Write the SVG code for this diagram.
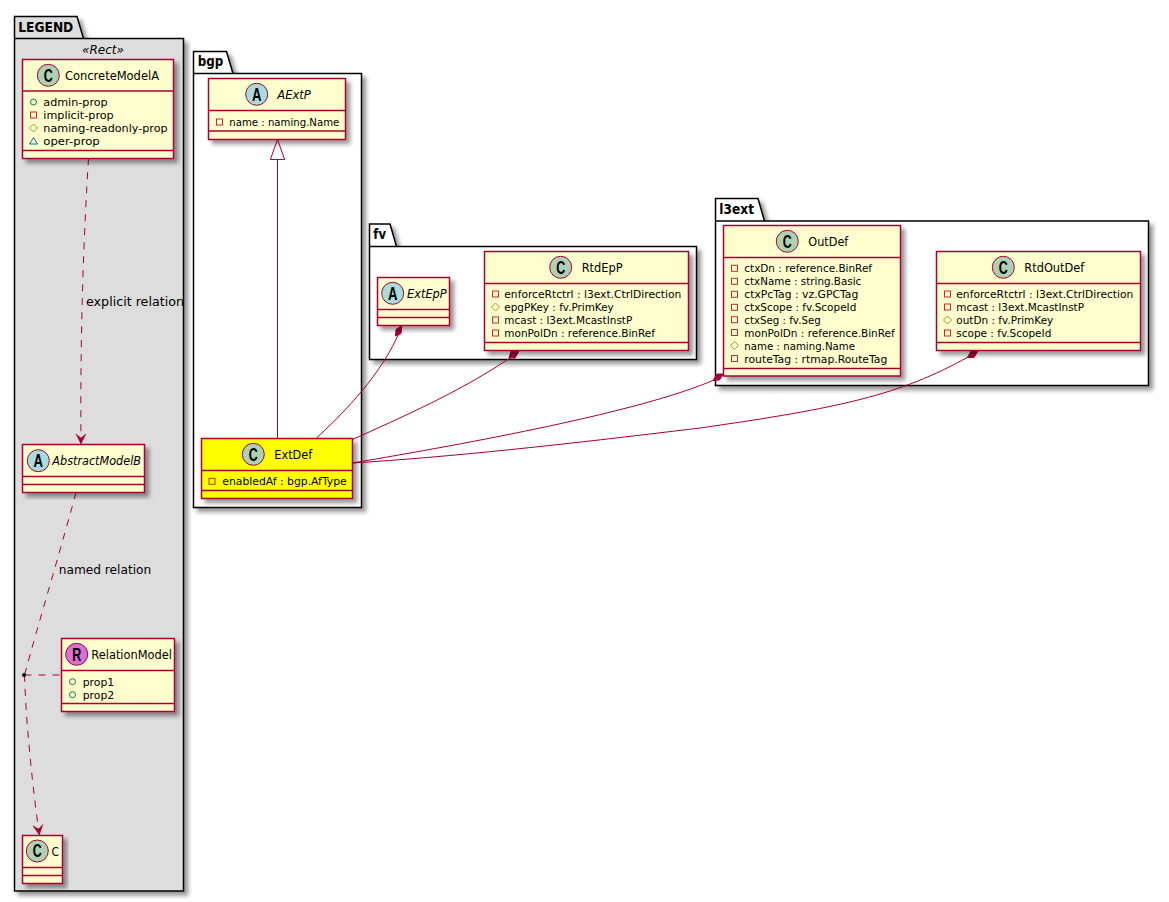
<svg xmlns="http://www.w3.org/2000/svg" width="1169" height="902" viewBox="0 0 1169 902">
<defs>
<filter id="sh" x="-10%" y="-10%" width="125%" height="125%"><feDropShadow dx="4" dy="4" stdDeviation="2.2" flood-color="#000" flood-opacity="0.4"/></filter>
<g id="pv"><rect x="-3" y="-3" width="6" height="6" fill="none" stroke="#C82930"/></g>
<g id="pb"><circle r="3" fill="none" stroke="#038048"/></g>
<g id="pt"><path d="M0,-4L4,0L0,4L-4,0Z" fill="none" stroke="#B38D22"/></g>
<g id="pk"><path d="M0,-3.5L4,3L-4,3Z" fill="none" stroke="#1963A0"/></g>
<marker id="arr" viewBox="0 0 10 10" refX="10" refY="5" markerWidth="10" markerHeight="10" markerUnits="userSpaceOnUse" overflow="visible" orient="auto"><path d="M0,0L10,5L0,10L4,5Z" fill="#A80036" stroke="#A80036" stroke-width="0.5"/></marker>
</defs>
<style>
text{font-family:"DejaVu Sans","Liberation Sans",sans-serif;fill:#000}
.pkg{stroke:#000;stroke-width:1.5;fill:#fff;filter:url(#sh)}
.tab{stroke:#000;stroke-width:1.5;fill:none}
.pn{font-weight:700;font-size:14px}
.box{fill:#FEFECE;stroke:#A80036;stroke-width:1.5;filter:url(#sh)}
.dv{stroke:#A80036;stroke-width:1.5;fill:none}
.ic{stroke:#A80036;stroke-width:1}
.il{font-family:"Liberation Sans",sans-serif;font-weight:700;font-size:18px;text-anchor:middle}
.n{font-size:13px}
.i{font-size:13px;font-style:italic}
.m{font-size:11px}
.lb{font-size:12.5px}
.c{fill:none;stroke:#A80036;stroke-width:1}
.d{stroke-dasharray:7,7}
.dm{fill:#A80036;stroke:#A80036}
</style>

<g id="pkg-legend">
<path class="pkg" style="fill:#DDDDDD" d="M14.5,16.5H77L83.5,38.5H183.5V891H14.5Z"/>
<path class="tab" d="M14.5,38.5H83.5"/>
<text class="pn" x="18.3" y="32" textLength="55" lengthAdjust="spacingAndGlyphs">LEGEND</text>
<text class="i" x="82" y="54" textLength="42" lengthAdjust="spacingAndGlyphs">«Rect»</text>
</g>
<g id="pkg-bgp">
<path class="pkg" d="M193.5,51.5H226.5L233,73.5H361.5V507.5H193.5Z"/>
<path class="tab" d="M193.5,73.5H233"/>
<text class="pn" x="197.7" y="66" textLength="25.6" lengthAdjust="spacingAndGlyphs">bgp</text>
</g>
<g id="pkg-fv">
<path class="pkg" d="M369.5,224H390L396.5,246.5H696.5V359.5H369.5Z"/>
<path class="tab" d="M369.5,246.5H396.5"/>
<text class="pn" x="373.3" y="239" textLength="12.7" lengthAdjust="spacingAndGlyphs">fv</text>
</g>
<g id="pkg-l3ext">
<path class="pkg" d="M715.5,198.5H758L764.5,221H1148.5V385.5H715.5Z"/>
<path class="tab" d="M715.5,221H764.5"/>
<text class="pn" x="719.3" y="213.5" textLength="34.7" lengthAdjust="spacingAndGlyphs">l3ext</text>
</g>

<g id="connectors">
<path class="c d" d="M88.5,158.5C84,230 80,330 81,444" marker-end="url(#arr)"/>
<path class="c d" d="M76,492.5C62,545 38,625 24.5,675"/>
<path class="c d" d="M24.5,675C26,725 33,790 39.3,835" marker-end="url(#arr)"/>
<path class="c d" d="M24.5,675H61.5"/>
<circle cx="24" cy="675" r="2" fill="#000"/>
<path class="c" d="M277.5,159.5V438.5"/>
<path d="M277.5,139.5L284.7,159.5H270.3Z" fill="#fff" stroke="#A80036"/>
<path class="c" d="M398,335C385,365 358,400 316.5,438"/>
<path class="c" d="M510,358C460,392 400,418 352.5,439.5"/>
<path class="c" d="M714,380C640,412 470,443 352.5,463"/>
<path class="c" d="M968,357C900,395 840,408 700,428C560,445 450,457 352.5,463"/>
<path class="dm" d="M402,325.5L396,329.5L395.5,336L401,333.5Z"/>
<path class="dm" d="M519,351L511,351L509,358L515,358Z"/>
<path class="dm" d="M723.3,374L717,374L713,380.5L719.5,380Z"/>
<path class="dm" d="M978,351L971,351L967.5,357.5L974,357.5Z"/>
<text class="lb" x="86" y="306" textLength="98" lengthAdjust="spacingAndGlyphs">explicit relation</text>
<text class="lb" x="58.7" y="574" textLength="92.6" lengthAdjust="spacingAndGlyphs">named relation</text>
</g>

<g id="ConcreteModelA">
<rect class="box" x="22.5" y="59.5" width="151" height="99"/>
<path class="dv" d="M22.5,91H173.5M22.5,150.5H173.5"/>
<circle class="ic" cx="48.3" cy="75.3" r="11" fill="#ADD1B2"/><text class="il" x="48.3" y="81.7" textLength="9" lengthAdjust="spacingAndGlyphs">C</text>
<text class="n" x="65" y="80" textLength="94" lengthAdjust="spacingAndGlyphs">ConcreteModelA</text>
<use href="#pb" x="33.5" y="102"/><text class="m" x="43.3" y="106" textLength="64.4" lengthAdjust="spacingAndGlyphs">admin-prop</text>
<use href="#pv" x="33.5" y="115"/><text class="m" x="43.3" y="119" textLength="70.4" lengthAdjust="spacingAndGlyphs">implicit-prop</text>
<use href="#pt" x="33.5" y="128"/><text class="m" x="43.3" y="132" textLength="124.4" lengthAdjust="spacingAndGlyphs">naming-readonly-prop</text>
<use href="#pk" x="33.5" y="141"/><text class="m" x="43.3" y="145" textLength="56.4" lengthAdjust="spacingAndGlyphs">oper-prop</text>
</g>
<g id="AbstractModelB">
<rect class="box" x="22.5" y="444.5" width="122" height="48"/>
<path class="dv" d="M22.5,476.5H144.5M22.5,484.5H144.5"/>
<circle class="ic" cx="38.3" cy="460.7" r="11" fill="#A9DCDF"/><text class="il" x="38.3" y="467" textLength="9.5" lengthAdjust="spacingAndGlyphs">A</text>
<text class="i" x="52.3" y="465" textLength="88.7" lengthAdjust="spacingAndGlyphs">AbstractModelB</text>
</g>
<g id="RelationModel">
<rect class="box" x="61.5" y="638.5" width="113" height="73"/>
<path class="dv" d="M61.5,670.5H174.5M61.5,703.5H174.5"/>
<circle class="ic" cx="76.7" cy="654.3" r="11" fill="#DA70D6"/><text class="il" x="76.7" y="660.7" textLength="9" lengthAdjust="spacingAndGlyphs">R</text>
<text class="n" x="91.3" y="659" textLength="80.7" lengthAdjust="spacingAndGlyphs">RelationModel</text>
<use href="#pb" x="72.5" y="681.7"/><text class="m" x="82.7" y="685.7" textLength="31.6" lengthAdjust="spacingAndGlyphs">prop1</text>
<use href="#pb" x="72.5" y="694.7"/><text class="m" x="82.7" y="698.7" textLength="31.6" lengthAdjust="spacingAndGlyphs">prop2</text>
</g>
<g id="C">
<rect class="box" x="22.5" y="835.5" width="40" height="48"/>
<path class="dv" d="M22.5,867.5H62.5M22.5,875.5H62.5"/>
<circle class="ic" cx="37.3" cy="851" r="11" fill="#ADD1B2"/><text class="il" x="37.3" y="857.4" textLength="9" lengthAdjust="spacingAndGlyphs">C</text>
<text class="n" x="51.5" y="855.5" textLength="7.5" lengthAdjust="spacingAndGlyphs">C</text>
</g>
<g id="AExtP">
<rect class="box" x="208.5" y="78.5" width="137" height="61"/>
<path class="dv" d="M208.5,110.5H345.5M208.5,131H345.5"/>
<circle class="ic" cx="256.7" cy="94.3" r="11" fill="#A9DCDF"/><text class="il" x="256.7" y="100.7" textLength="9.5" lengthAdjust="spacingAndGlyphs">A</text>
<text class="i" x="277.3" y="99" textLength="33.4" lengthAdjust="spacingAndGlyphs">AExtP</text>
<use href="#pv" x="219.5" y="122"/><text class="m" x="229.3" y="125.5" textLength="110" lengthAdjust="spacingAndGlyphs">name : naming.Name</text>
</g>
<g id="ExtDef">
<rect class="box" style="fill:#FFFF00" x="201.5" y="438.5" width="151" height="60"/>
<path class="dv" d="M201.5,470.5H352.5M201.5,490.5H352.5"/>
<circle class="ic" cx="253.3" cy="454.3" r="11" fill="#ADD1B2"/><text class="il" x="253.3" y="460.7" textLength="9" lengthAdjust="spacingAndGlyphs">C</text>
<text class="n" x="274.3" y="459" textLength="38" lengthAdjust="spacingAndGlyphs">ExtDef</text>
<use href="#pv" x="212" y="481.3"/><text class="m" x="222.3" y="485" textLength="124.4" lengthAdjust="spacingAndGlyphs">enabledAf : bgp.AfType</text>
</g>
<g id="ExtEpP">
<rect class="box" x="377.5" y="277.5" width="72" height="48"/>
<path class="dv" d="M377.5,309.5H449.5M377.5,317.5H449.5"/>
<circle class="ic" cx="392.7" cy="293.3" r="11" fill="#A9DCDF"/><text class="il" x="392.7" y="299.7" textLength="9.5" lengthAdjust="spacingAndGlyphs">A</text>
<text class="i" x="407" y="298" textLength="39.7" lengthAdjust="spacingAndGlyphs">ExtEpP</text>
</g>
<g id="RtdEpP">
<rect class="box" x="484.5" y="251.5" width="204" height="99"/>
<path class="dv" d="M484.5,283.5H688.5M484.5,342.5H688.5"/>
<circle class="ic" cx="560.7" cy="267.3" r="11" fill="#ADD1B2"/><text class="il" x="560.7" y="273.7" textLength="9" lengthAdjust="spacingAndGlyphs">C</text>
<text class="n" x="581.7" y="272" textLength="41" lengthAdjust="spacingAndGlyphs">RtdEpP</text>
<use href="#pv" x="495.5" y="294"/><text class="m" x="504.3" y="298" textLength="177" lengthAdjust="spacingAndGlyphs">enforceRtctrl : l3ext.CtrlDirection</text>
<use href="#pt" x="495.5" y="307"/><text class="m" x="504.3" y="311" textLength="109.4" lengthAdjust="spacingAndGlyphs">epgPKey : fv.PrimKey</text>
<use href="#pv" x="495.5" y="320"/><text class="m" x="504.3" y="324" textLength="128" lengthAdjust="spacingAndGlyphs">mcast : l3ext.McastInstP</text>
<use href="#pv" x="495.5" y="333"/><text class="m" x="504.3" y="337" textLength="150.7" lengthAdjust="spacingAndGlyphs">monPolDn : reference.BinRef</text>
</g>
<g id="OutDef">
<rect class="box" x="723.5" y="225.5" width="177" height="150.5"/>
<path class="dv" d="M723.5,257.5H900.5M723.5,368.5H900.5"/>
<circle class="ic" cx="787.3" cy="241.3" r="11" fill="#ADD1B2"/><text class="il" x="787.3" y="247.7" textLength="9" lengthAdjust="spacingAndGlyphs">C</text>
<text class="n" x="808.3" y="246" textLength="40" lengthAdjust="spacingAndGlyphs">OutDef</text>
<use href="#pv" x="734.5" y="268.3"/><text class="m" x="744.3" y="272.3" textLength="127.7" lengthAdjust="spacingAndGlyphs">ctxDn : reference.BinRef</text>
<use href="#pv" x="734.5" y="281.3"/><text class="m" x="744.3" y="285.3" textLength="117" lengthAdjust="spacingAndGlyphs">ctxName : string.Basic</text>
<use href="#pv" x="734.5" y="294.3"/><text class="m" x="744.3" y="298.3" textLength="114" lengthAdjust="spacingAndGlyphs">ctxPcTag : vz.GPCTag</text>
<use href="#pv" x="734.5" y="307.3"/><text class="m" x="744.3" y="311.3" textLength="112" lengthAdjust="spacingAndGlyphs">ctxScope : fv.ScopeId</text>
<use href="#pv" x="734.5" y="319.7"/><text class="m" x="744.3" y="323.7" textLength="76.4" lengthAdjust="spacingAndGlyphs">ctxSeg : fv.Seg</text>
<use href="#pv" x="734.5" y="332.5"/><text class="m" x="744.3" y="336.5" textLength="150.4" lengthAdjust="spacingAndGlyphs">monPolDn : reference.BinRef</text>
<use href="#pt" x="734.5" y="345.5"/><text class="m" x="744.3" y="349.5" textLength="110.7" lengthAdjust="spacingAndGlyphs">name : naming.Name</text>
<use href="#pv" x="734.5" y="358.5"/><text class="m" x="744.3" y="362.5" textLength="143" lengthAdjust="spacingAndGlyphs">routeTag : rtmap.RouteTag</text>
</g>
<g id="RtdOutDef">
<rect class="box" x="936.5" y="251.5" width="204" height="99"/>
<path class="dv" d="M936.5,283.5H1140.5M936.5,342.5H1140.5"/>
<circle class="ic" cx="1003.3" cy="267.3" r="11" fill="#ADD1B2"/><text class="il" x="1003.3" y="273.7" textLength="9" lengthAdjust="spacingAndGlyphs">C</text>
<text class="n" x="1024.3" y="272" textLength="60" lengthAdjust="spacingAndGlyphs">RtdOutDef</text>
<use href="#pv" x="947.5" y="294"/><text class="m" x="956.3" y="298" textLength="177" lengthAdjust="spacingAndGlyphs">enforceRtctrl : l3ext.CtrlDirection</text>
<use href="#pv" x="947.5" y="307"/><text class="m" x="956.3" y="311" textLength="127.7" lengthAdjust="spacingAndGlyphs">mcast : l3ext.McastInstP</text>
<use href="#pt" x="947.5" y="320"/><text class="m" x="956.3" y="324" textLength="97" lengthAdjust="spacingAndGlyphs">outDn : fv.PrimKey</text>
<use href="#pv" x="947.5" y="333"/><text class="m" x="956.3" y="337" textLength="95" lengthAdjust="spacingAndGlyphs">scope : fv.ScopeId</text>
</g>
</svg>
